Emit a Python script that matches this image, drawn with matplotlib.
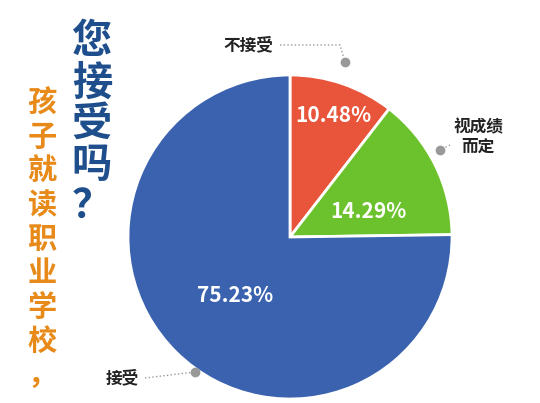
import matplotlib.pyplot as plt

plt.rcParams['font.family'] = ['Noto Sans CJK SC', 'DejaVu Sans']

labels = ["不接受", "视成绩\n而定", "接受"]
shares = [10.48, 14.29, 75.23]
colors = ["#e8553a", "#6cc22c", "#3a62ae"]

W, H = 540, 403
fig = plt.figure(figsize=(W / 100, H / 100), dpi=100)
ax = fig.add_axes([0, 0, 1, 1])

cx, cy, r = 290, H - 237, 162
ax.pie(shares, colors=colors, startangle=90, counterclock=False,
       center=(cx, cy), radius=r, frame=True,
       wedgeprops=dict(edgecolor="white", linewidth=2))
ax.set_xlim(0, W)
ax.set_ylim(0, H)
ax.set_aspect("equal")
ax.axis("off")

# percentage labels
pct_pos = [(333, H - 115), (368, H - 212), (235, H - 296)]
for (x, y), v in zip(pct_pos, shares):
    ax.text(x, y, f"{v:.2f}%", color="white", fontsize=15, fontweight="bold",
            ha="center", va="center")

# category callouts: text position, then dotted leader ending in a dot
text_pos = [(248, H - 45), (478, H - 137), (122, H - 378)]
leaders = [([280, 340, 345], [H - 45, H - 45, H - 62]),
           ([450, 440], [H - 145, H - 150]),
           ([145, 195], [H - 378, H - 372])]
for lab, (tx, ty), (lx, ly) in zip(labels, text_pos, leaders):
    ax.text(tx, ty, lab, fontsize=12, fontweight="bold", ha="center", va="center",
            color="#222222", linespacing=1.1)
    ax.plot(lx, ly, ls=":", color="#999999", lw=1)
    ax.plot(lx[-1], ly[-1], "o", color="#999999", ms=6)

# vertical titles
title1 = "您接受吗？"
for i, ch in enumerate(title1):
    ax.text(92, H - 42 - i * 41, ch, fontsize=29, fontweight="bold",
            color="#1f4e8c", ha="center", va="center")
title2 = "孩子就读职业学校，"
for i, ch in enumerate(title2):
    ax.text(42, H - 103 - i * 34, ch, fontsize=21, fontweight="bold",
            color="#e88a1a", ha="center", va="center")

fig.savefig("out.png", dpi=100)
